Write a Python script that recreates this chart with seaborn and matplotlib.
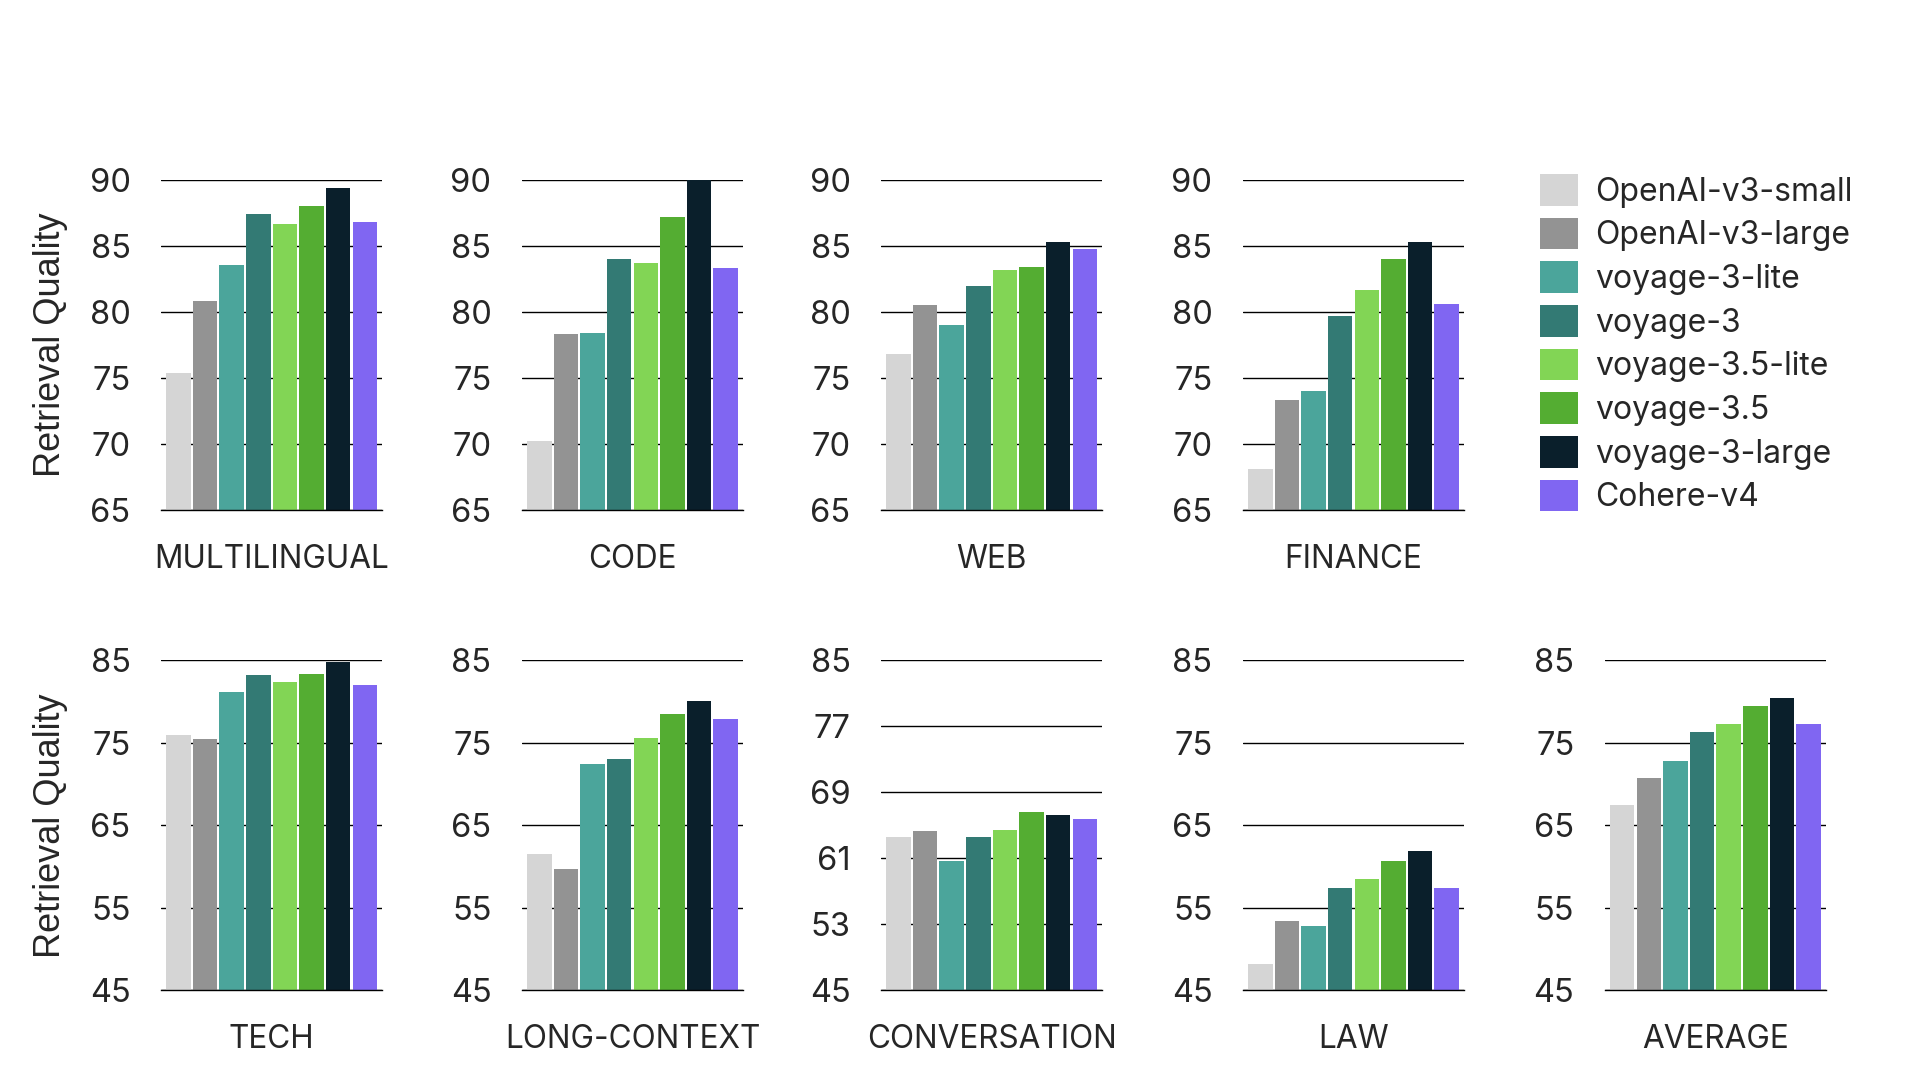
#!/usr/bin/env python3
import matplotlib
matplotlib.use("Agg")
import matplotlib.pyplot as plt
from matplotlib.patches import Patch
import seaborn as sns
import pandas as pd

OUTPUT = "out.png"

MODELS = [
    "OpenAI-v3-small",
    "OpenAI-v3-large",
    "voyage-3-lite",
    "voyage-3",
    "voyage-3.5-lite",
    "voyage-3.5",
    "voyage-3-large",
    "Cohere-v4",
]
COLORS = ["#d5d5d5", "#939393", "#4ba59b", "#337a74",
          "#82d555", "#54ad32", "#0a1f2b", "#8066f2"]

# retrieval quality per domain, same order as MODELS
MULTILINGUAL = [75.4, 80.8, 83.6, 87.4, 86.7, 88.0, 89.4, 86.8]
CODE = [70.2, 78.3, 78.4, 84.0, 83.7, 87.2, 90.1, 83.3]
WEB = [76.8, 80.5, 79.0, 82.0, 83.2, 83.4, 85.3, 84.8]
FINANCE = [68.1, 73.3, 74.0, 79.7, 81.7, 84.0, 85.3, 80.6]
TECH = [75.9, 75.4, 81.2, 83.2, 82.4, 83.3, 84.8, 82.0]
LONG_CONTEXT = [61.5, 59.7, 72.4, 73.0, 75.6, 78.5, 80.1, 77.9]
CONVERSATION = [63.6, 64.3, 60.7, 63.6, 64.4, 66.6, 66.2, 65.8]
LAW = [48.2, 53.4, 52.8, 57.4, 58.5, 60.7, 61.9, 57.4]
AVERAGE = [67.5, 70.7, 72.8, 76.3, 77.3, 79.5, 80.4, 77.3]

TICKS_TOP = [65, 70, 75, 80, 85, 90]
TICKS_BOTTOM = [45, 55, 65, 75, 85]
TICKS_CONVERSATION = [45, 53, 61, 69, 77, 85]

PANELS = [
    ("MULTILINGUAL", MULTILINGUAL, TICKS_TOP),
    ("CODE", CODE, TICKS_TOP),
    ("WEB", WEB, TICKS_TOP),
    ("FINANCE", FINANCE, TICKS_TOP),
    ("TECH", TECH, TICKS_BOTTOM),
    ("LONG-CONTEXT", LONG_CONTEXT, TICKS_BOTTOM),
    ("CONVERSATION", CONVERSATION, TICKS_CONVERSATION),
    ("LAW", LAW, TICKS_BOTTOM),
    ("AVERAGE", AVERAGE, TICKS_BOTTOM),
]

YLABEL = "Retrieval Quality"

COL_LEFTS = [0.0839, 0.2719, 0.4589, 0.6474, 0.8359]
AX_W = 0.1151
ROW_BOTTOMS = [0.5278, 0.0831]
AX_H = 0.3055
TICK_FS = 23.5
LABEL_FS = 22.7
LEGEND_FS = 23


def main():
    sns.set_style("white")
    plt.rcParams["font.family"] = ["Inter", "DejaVu Sans"]

    fig = plt.figure(figsize=(19.2, 10.8), dpi=100)
    palette = dict(zip(MODELS, COLORS))

    for i, (domain, scores, ticks) in enumerate(PANELS):
        row, col = (0, i) if i < 4 else (1, i - 4)
        ax = fig.add_axes([COL_LEFTS[col], ROW_BOTTOMS[row], AX_W, AX_H])
        df = pd.DataFrame({"model": MODELS, "score": scores})
        sns.barplot(
            data=df, x="model", y="score",
            order=MODELS, hue="model", hue_order=MODELS,
            palette=palette, saturation=1, width=0.92,
            linewidth=0, legend=False, ax=ax,
        )
        ax.set_axisbelow(True)
        ax.grid(axis="y", color="black", linewidth=1.0)
        ax.grid(axis="x", visible=False)
        for side in ["top", "left", "right"]:
            ax.spines[side].set_visible(False)
        ax.spines["bottom"].set_color("black")
        ax.spines["bottom"].set_linewidth(1.0)

        ax.set_ylim(ticks[0], ticks[-1])
        ax.set_yticks(ticks)
        ax.set_xlim(-0.65, len(MODELS) - 0.35)
        ax.set_xticks([])
        ax.tick_params(axis="y", length=0, pad=22, labelsize=TICK_FS)
        ax.set_xlabel(domain, fontsize=LABEL_FS, labelpad=24.5)
        if col == 0:
            ax.set_ylabel(YLABEL, fontsize=26,
                          family=["Liberation Sans", "DejaVu Sans"])
            ax.yaxis.set_label_coords(-0.42, 0.5)
        else:
            ax.set_ylabel("")

    handles = [Patch(facecolor=c, edgecolor="none", label=m)
               for m, c in zip(MODELS, COLORS)]
    fig.legend(
        handles=handles, loc="upper left", bbox_to_anchor=(0.802, 0.839),
        frameon=False, borderpad=0, borderaxespad=0,
        handlelength=1.19, handleheight=1.16,
        handletextpad=0.53, labelspacing=0.31, fontsize=LEGEND_FS,
    )

    fig.savefig(OUTPUT, dpi=100)
    plt.close()


if __name__ == "__main__":
    main()
